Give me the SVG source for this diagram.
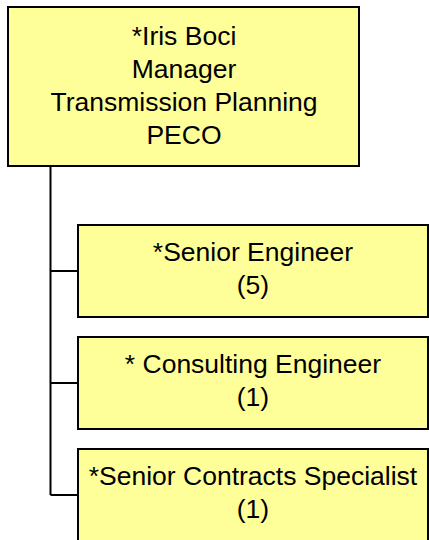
<svg xmlns="http://www.w3.org/2000/svg" width="429" height="540" viewBox="0 0 429 540">
<style>
.box{fill:#FFFF99;stroke:#000;stroke-width:2}
.t{font-family:"Liberation Sans",Arial,sans-serif;font-size:26.5px;fill:#000;text-anchor:middle}
.c{fill:none;stroke:#000;stroke-width:2}
</style>
<rect width="429" height="540" fill="#fff"/>
<g id="connectors">
<path class="c" d="M50.5,166 V495 M50.5,271 H78 M50.5,383 H78 M50.5,495 H78"/>
</g>
<g id="manager">
<rect class="box" x="8" y="7" width="351" height="159"/>
<text class="t" x="184" y="45">*Iris Boci</text>
<text class="t" x="184" y="78">Manager</text>
<text class="t" x="184" y="111">Transmission Planning</text>
<text class="t" x="184" y="144">PECO</text>
</g>
<g id="senior-engineer">
<rect class="box" x="78" y="225" width="350" height="92"/>
<text class="t" x="253" y="261">*Senior Engineer</text>
<text class="t" x="253" y="294">(5)</text>
</g>
<g id="consulting-engineer">
<rect class="box" x="78" y="337" width="350" height="92"/>
<text class="t" x="253" y="373">* Consulting Engineer</text>
<text class="t" x="253" y="406">(1)</text>
</g>
<g id="contracts-specialist">
<rect class="box" x="78" y="449" width="350" height="92"/>
<text class="t" x="253" y="485">*Senior Contracts Specialist</text>
<text class="t" x="253" y="518">(1)</text>
</g>
</svg>
